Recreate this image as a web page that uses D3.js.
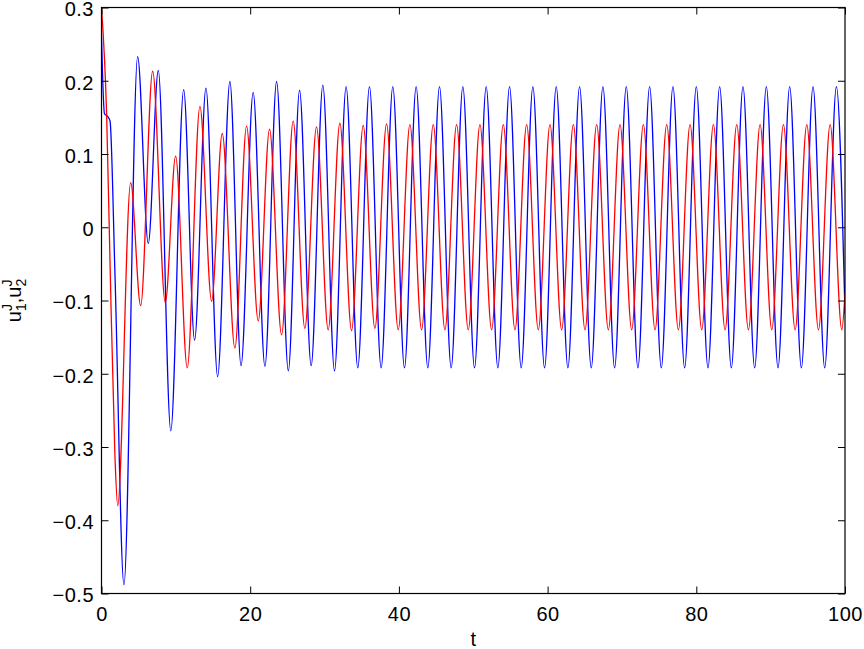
<!DOCTYPE html>
<html>
<head>
<meta charset="utf-8">
<script src="https://cdn.jsdelivr.net/npm/d3@7"></script>
<style>
body { margin: 0; background: #fff; }
svg text { font-family: "Liberation Sans", Arial, sans-serif; fill: #000; }
</style>
</head>
<body>
<svg id="chart" width="864" height="649"></svg>
<script>
// extrema of u1 (red), plus start / end points
const tRed = [0, 0.7, 1.15, 1.8, 2.18, 3.92, 5.27, 6.88, 8.58, 9.97, 11.53, 13.24, 14.81, 16.24, 17.94,
    19.51, 21.08, 22.6, 24.22, 25.78, 27.35, 28.92, 30.49, 32.06, 33.63, 35.2, 36.77, 38.34, 39.91,
    41.48, 43.05, 44.62, 46.19, 47.76, 49.33, 50.9, 52.47, 54.04, 55.61, 57.18, 58.75, 60.32, 61.89,
    63.46, 65.03, 66.6, 68.17, 69.74, 71.31, 72.88, 74.45, 76.02, 77.59, 79.16, 80.73, 82.3, 83.87,
    85.44, 87.01, 88.58, 90.15, 91.72, 93.29, 94.86, 96.43, 98.0, 99.57, 100]
const uRed = [0.30, 0.15, -0.05, -0.31, -0.38, 0.061, -0.107, 0.213, -0.103, 0.097, -0.192, 0.165, -0.101, 0.128, -0.165,
    0.138, -0.128, 0.134, -0.147, 0.145, -0.138, 0.137, -0.140, 0.142, -0.141, 0.139, -0.138, 0.141, -0.140,
    0.140, -0.140, 0.140, -0.140, 0.140, -0.140, 0.140, -0.140, 0.140, -0.140, 0.140, -0.140, 0.140, -0.140,
    0.140, -0.140, 0.140, -0.140, 0.140, -0.140, 0.140, -0.140, 0.140, -0.140, 0.140, -0.140, 0.140, -0.140,
    0.140, -0.140, 0.140, -0.140, 0.140, -0.140, 0.140, -0.140, 0.140, -0.140, -0.09]

// extrema of u2 (blue)
const tBlue = [0, 0.4, 0.85, 1.15, 1.8, 3.02, 4.86, 6.29, 7.64, 9.32, 11.05, 12.52, 14.05, 15.62, 17.27,
    18.77, 20.4, 21.98, 23.55, 25.13, 26.64, 28.2, 29.77, 31.34, 32.9, 34.47, 36.04, 37.61, 39.18,
    40.75, 42.32, 43.89, 45.46, 47.03, 48.6, 50.17, 51.74, 53.31, 54.88, 56.45, 58.02, 59.59, 61.16,
    62.73, 64.3, 65.87, 67.44, 69.01, 70.58, 72.15, 73.72, 75.29, 76.86, 78.43, 80.0, 81.57, 83.14,
    84.71, 86.28, 87.85, 89.42, 90.99, 92.56, 94.13, 95.7, 97.27, 98.84, 100]
const uBlue = [0.26, 0.155, 0.151, 0.145, -0.06, -0.488, 0.233, -0.022, 0.214, -0.278, 0.188, -0.154, 0.190, -0.204, 0.199,
    -0.189, 0.184, -0.190, 0.199, -0.196, 0.187, -0.189, 0.194, -0.196, 0.192, -0.192, 0.192, -0.192, 0.192,
    -0.192, 0.192, -0.192, 0.192, -0.192, 0.192, -0.192, 0.192, -0.192, 0.192, -0.192, 0.192, -0.192, 0.192,
    -0.192, 0.192, -0.192, 0.192, -0.192, 0.192, -0.192, 0.192, -0.192, 0.192, -0.192, 0.192, -0.192, 0.192,
    -0.192, 0.192, -0.192, 0.192, -0.192, 0.192, -0.192, 0.192, -0.192, 0.192, -0.118]

const xTicks = [0, 20, 40, 60, 80, 100]
const xTickLabels = ["0", "20", "40", "60", "80", "100"]
const yTicks = [-0.5, -0.4, -0.3, -0.2, -0.1, 0, 0.1, 0.2, 0.3]
const yTickLabels = ["\u22120.5", "\u22120.4", "\u22120.3", "\u22120.2", "\u22120.1", "0", "0.1", "0.2", "0.3"]

const plotLeft = 101.5, plotRight = 845, plotTop = 7.5, plotBottom = 593.5

let svg = d3.select("#chart")

let x = d3.scaleLinear().domain([0, 100]).range([plotLeft, plotRight])
let y = d3.scaleLinear().domain([-0.5, 0.3]).range([plotBottom, plotTop])

svg.append("clipPath").attr("id", "plotClip")
    .append("rect")
    .attr("x", plotLeft).attr("y", plotTop)
    .attr("width", plotRight - plotLeft).attr("height", plotBottom - plotTop)

let line = d3.line()
    .x(d => x(d[0]))
    .y(d => y(d[1]))
    .curve(d3.curveMonotoneX)

let series = [
    {t: tBlue, u: uBlue, color: "#0000ff"},
    {t: tRed, u: uRed, color: "#ff0000"}
]

svg.append("g").attr("clip-path", "url(#plotClip)")
    .selectAll("path")
    .data(series)
    .enter()
    .append("path")
    .attr("d", s => line(s.t.map((t, i) => [t, s.u[i]])))
    .attr("fill", "none")
    .attr("stroke", s => s.color)
    .attr("stroke-width", 1.3)

// axes, matlab style: ticks pointing in, on all four sides
const fs = 20
let xAxis = d3.axisBottom(x).tickValues(xTicks).tickFormat((d, i) => xTickLabels[i])
    .tickSizeInner(-7).tickSizeOuter(0).tickPadding(13)
let yAxis = d3.axisLeft(y).tickValues(yTicks).tickFormat((d, i) => yTickLabels[i])
    .tickSizeInner(-7).tickSizeOuter(0).tickPadding(7.5)

let gx = svg.append("g").attr("transform", `translate(0,${plotBottom})`).call(xAxis)
let gy = svg.append("g").attr("transform", `translate(${plotLeft},0)`).call(yAxis)
let gxTop = svg.append("g").attr("transform", `translate(0,${plotTop})`)
    .call(d3.axisTop(x).tickValues(xTicks).tickFormat("").tickSizeInner(-7).tickSizeOuter(0))
let gyRight = svg.append("g").attr("transform", `translate(${plotRight},0)`)
    .call(d3.axisRight(y).tickValues(yTicks).tickFormat("").tickSizeInner(-7).tickSizeOuter(0))

for (let g of [gx, gy, gxTop, gyRight]) {
    g.select(".domain").remove()
    g.selectAll(".tick line").attr("stroke", "#000").attr("stroke-width", 1)
    g.selectAll("text").attr("font-size", fs).attr("font-family", null)
        .attr("letter-spacing", 0.5)
}
gy.selectAll("text").attr("dy", "0.42em")

svg.append("rect")
    .attr("x", plotLeft).attr("y", plotTop)
    .attr("width", plotRight - plotLeft).attr("height", plotBottom - plotTop)
    .attr("fill", "none").attr("stroke", "#000").attr("stroke-width", 1.2)

// axis labels
svg.append("text")
    .attr("x", (plotLeft + plotRight) / 2).attr("y", 646)
    .attr("text-anchor", "middle").attr("font-size", fs)
    .text("t")

let yl = svg.append("text")
    .attr("transform", `translate(21,${(plotTop + plotBottom) / 2}) rotate(-90)`)
    .attr("text-anchor", "middle").attr("font-size", fs)
yl.append("tspan").text("u")
yl.append("tspan").attr("font-size", 14).attr("dy", 5).text("1")
yl.append("tspan").attr("font-size", 14).attr("dx", -7.8).attr("dy", -14).text("J")
yl.append("tspan").attr("dx", 0.8).attr("dy", 9).text(",")
yl.append("tspan").text("u")
yl.append("tspan").attr("font-size", 14).attr("dy", 5).text("2")
yl.append("tspan").attr("font-size", 14).attr("dx", -7.8).attr("dy", -14).text("J")
</script>
</body>
</html>
